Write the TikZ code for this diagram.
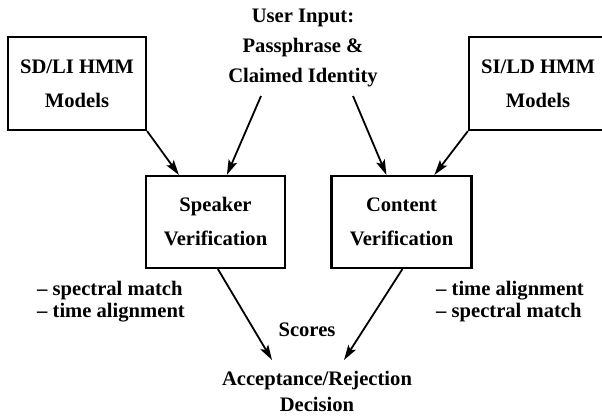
\documentclass[tikz,border=0pt]{standalone}
\usepackage{fontspec}
\setmainfont{Liberation Serif}
\usetikzlibrary{arrows.meta,calc}
\tikzset{
  blk/.style={draw, line width=2.2pt, rectangle, inner sep=0pt, align=center,
    font={\fontsize{20.6}{34}\selectfont\bfseries}},
  lbl/.style={inner sep=0pt, font={\fontsize{20.6}{22}\selectfont\bfseries}},
  arr/.style={line width=1.8pt, -{Stealth[length=15pt,width=9pt,inset=3pt]}}
}
\begin{document}
\begin{tikzpicture}[x=1pt,y=-1pt]
\useasboundingbox (0,0) rectangle (602,418);
\clip (0,0) rectangle (602,418);
\fill[white] (0,0) rectangle (602,418);
% boxes
\node[blk, minimum width=138pt, minimum height=93pt] (sdli) at (77,83.5) {SD/LI HMM\\Models};
\node[blk, minimum width=138pt, minimum height=93pt] (sild) at (538,83.5) {SI/LD HMM\\Models};
\node[blk, minimum width=139pt, minimum height=92pt] (spk) at (215.5,222) {Speaker\\Verification};
\node[blk, minimum width=140pt, minimum height=92pt] (cnt) at (401.5,222) {Content\\Verification};
% texts
\node[inner sep=0pt, align=center, font={\fontsize{20.6}{30}\selectfont\bfseries}] (user) at (303,47.5)
  {User Input:\\Passphrase \&\\Claimed Identity};
\node[lbl, align=left, anchor=west] (ll) at (37,302) {– spectral match\\– time alignment};
\node[lbl, align=left, anchor=west] (rl) at (436,302) {– time alignment\\– spectral match};
\node[lbl] (scores) at (307,329.5) {Scores};
\node[inner sep=0pt, align=center, font={\fontsize{20.6}{26}\selectfont\bfseries}] (dec) at (317,391)
  {Acceptance/Rejection\\Decision};
% connector ends
\coordinate (u1) at (261,96);
\coordinate (u2) at (353,96);
\coordinate (d1) at (272,360);
\coordinate (d2) at (344,360);
% arrows
\draw[arr] (sdli.south east) -- ($(spk.north west)+(34,0)$);
\draw[arr] (u1) -- ($(spk.north west)+(82,0)$);
\draw[arr] (u2) -- ($(cnt.north west)+(56,0)$);
\draw[arr] (sild.south west) -- ($(cnt.north west)+(104,0)$);
\draw[arr] ($(spk.south west)+(73,0)$) -- (d1);
\draw[arr] ($(cnt.south west)+(72,0)$) -- (d2);
\end{tikzpicture}
\end{document}
